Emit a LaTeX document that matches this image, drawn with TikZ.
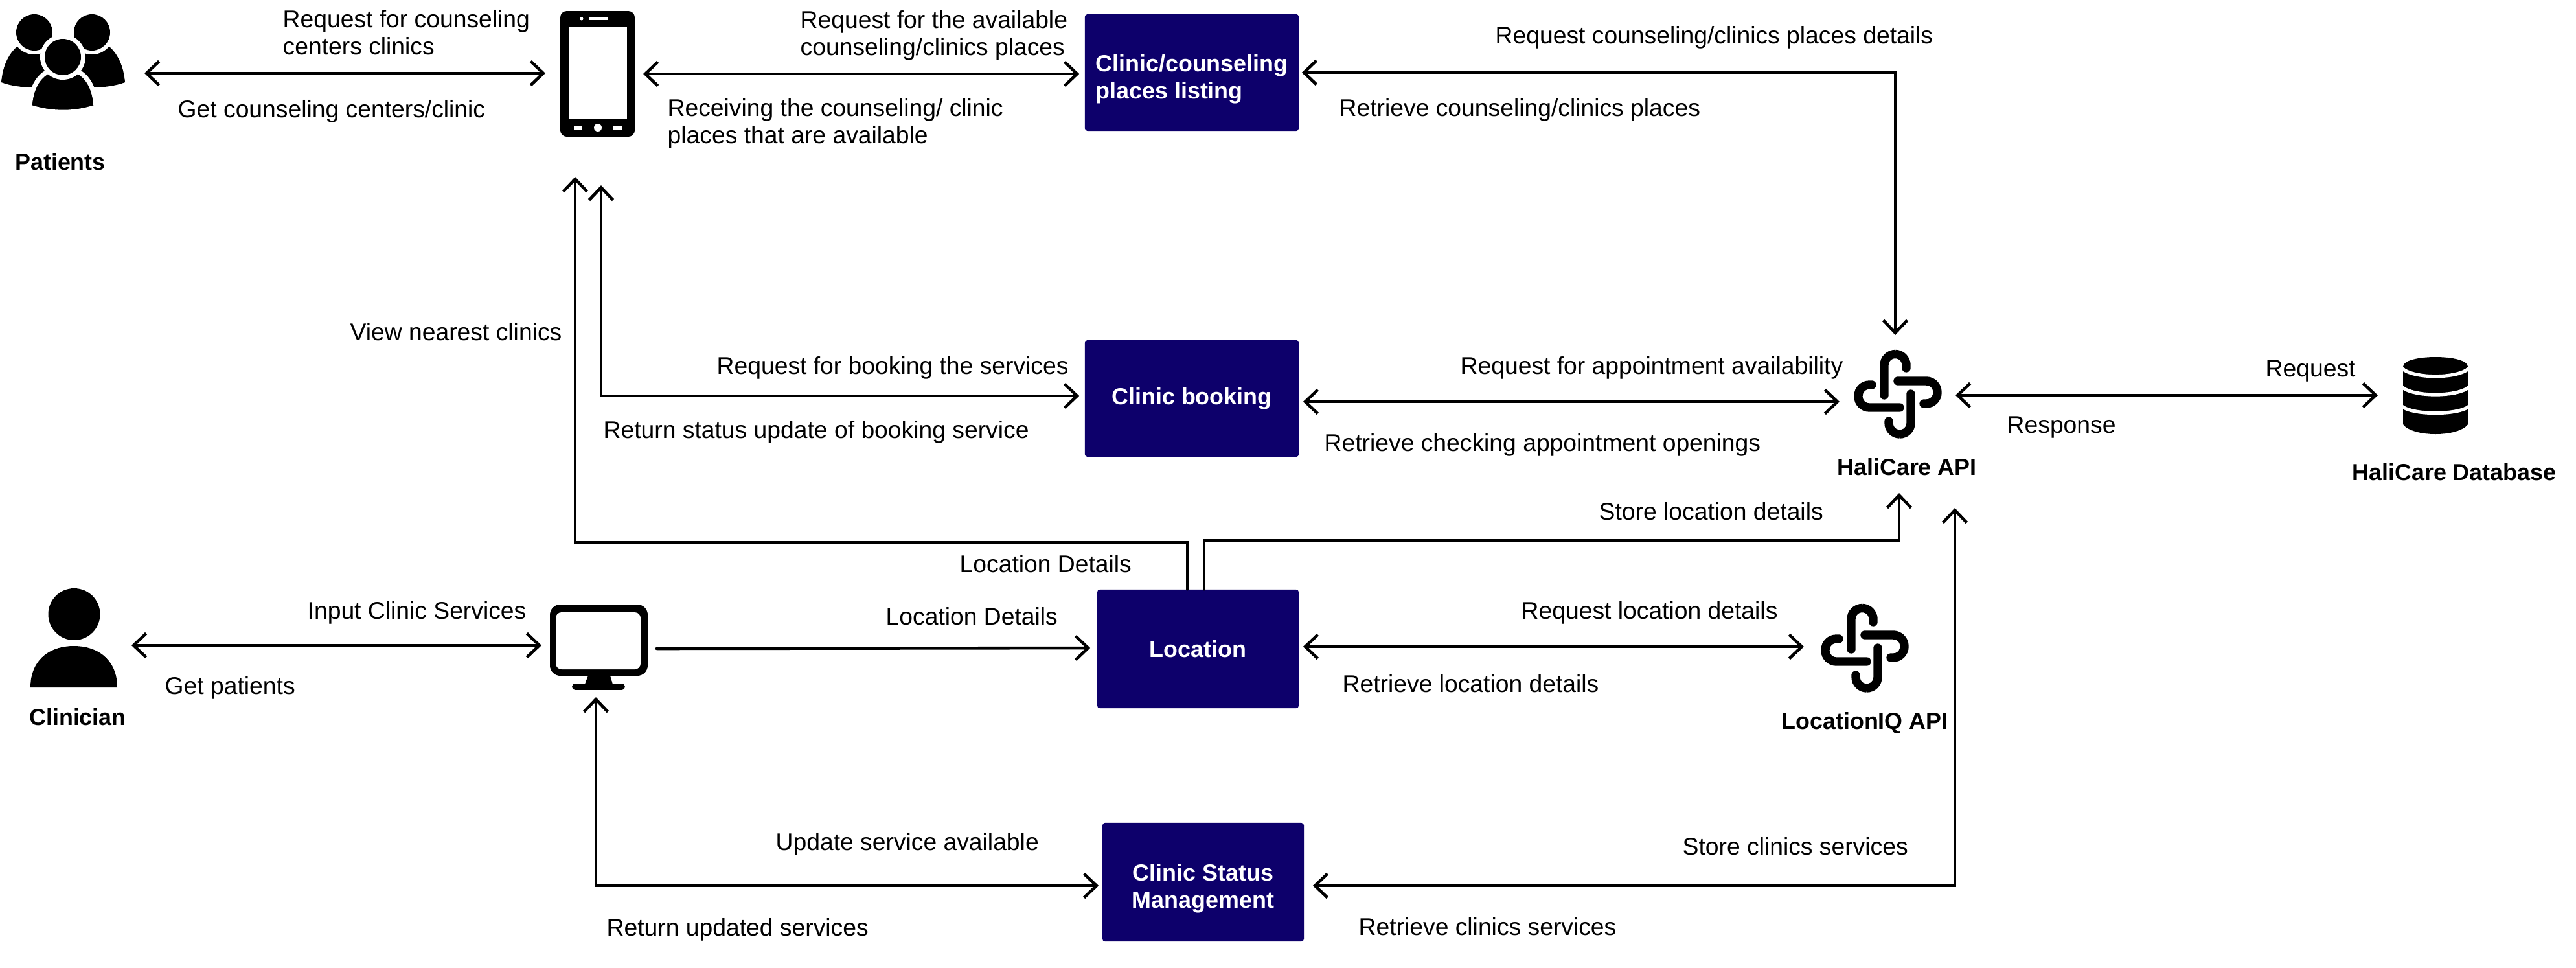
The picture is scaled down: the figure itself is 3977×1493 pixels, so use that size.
\documentclass[tikz,border=0pt]{standalone}
\usepackage{fontspec}
\setmainfont{Liberation Sans}
\usetikzlibrary{arrows.meta}
\definecolor{navy}{HTML}{0D006B}

\tikzset{
    lbl/.style={inner sep=0pt,anchor=west,align=left,font=\fontsize{10.6}{11.9}\selectfont},
    actor/.style={inner sep=0pt,font=\fontsize{10.2}{11.9}\selectfont\bfseries},
    box/.style={fill=navy,text=white,rounded corners=0.04cm,inner sep=0pt,font=\fontsize{10.2}{11.9}\selectfont\bfseries},
    oneway/.style={line width=1.3pt,line cap=round,-{Straight Barb[length=5.5pt,width=10.5pt]}},
    twoway/.style={line width=1.3pt,line cap=round,{Straight Barb[length=5.5pt,width=10.5pt]}-{Straight Barb[length=5.5pt,width=10.5pt]}},
    linkicon/.pic={
        \draw[line width=3.8pt,line cap=round,rounded corners=0.17cm]
            (59,80) -- (59,16.5) -- (93,16.5) -- (93,38)
            (80,58) -- (141,58) -- (141,93) -- (120,93)
            (100,78) -- (100,140) -- (66,140) -- (66,120)
            (83,99) -- (19,99) -- (19,64) -- (40,64);
    },
    patientsicon/.pic={
        \fill (2,127) .. controls (5,90) and (25,62) .. (53,62) .. controls (85,62) and (105,90) .. (105,120) -- (45,135) .. controls (30,134) and (15,132) .. (2,127);
        \fill (193,127) .. controls (190,90) and (170,62) .. (142,62) .. controls (110,62) and (90,90) .. (90,120) -- (150,135) .. controls (165,134) and (180,132) .. (193,127);
        \fill[white] (53,50) circle [radius=34] (142,50) circle [radius=34];
        \fill (53,50) circle [radius=28] (142,50) circle [radius=28];
        \filldraw[draw=white,line width=2pt] (46,165) .. controls (48,130) and (65,105) .. (97,105) .. controls (130,105) and (146,130) .. (148,165) .. controls (115,176) and (80,176) .. (46,165);
        \fill[white] (97,88) circle [radius=35];
        \fill (97,88) circle [radius=28];
    },
    phoneicon/.pic={
        \fill[rounded corners=0.1cm] (865,17) rectangle (980,211);
        \fill[white] (879,41) rectangle (968,183);
        \fill[white] (898,29) circle [radius=2.5];
        \fill[white] (909,27) rectangle (938,31);
        \fill[white] (923,197) circle [radius=6];
        \fill[white] (886,195) rectangle (898,199.5);
        \fill[white] (947,195) rectangle (960,199.5);
    },
    clinicianicon/.pic={
        \fill (114.5,948) circle [radius=40];
        \fill (47,1061) .. controls (47,1020) and (75,997) .. (114,997) .. controls (153,997) and (181,1020) .. (181,1061) -- cycle;
    },
    monitoricon/.pic={
        \fill[rounded corners=0.16cm] (849,933) rectangle (1000,1043);
        \fill[white,rounded corners=0.09cm] (858,945) rectangle (989,1033);
        \fill (908,1043) -- (942,1043) -- (946,1056) -- (903,1056) -- cycle;
        \draw[line width=2.8pt,line cap=round] (888,1060) -- (960,1060);
    },
    databaseicon/.pic={
        \fill (10,26) .. controls (10,6) and (110,6) .. (110,26) -- (110,115) .. controls (95,135) and (25,135) .. (10,115) -- cycle;
        \draw[white,line width=1.5pt] (8,28) .. controls (25,45) and (95,45) .. (112,28);
        \draw[white,line width=1.5pt] (8,57) .. controls (25,73) and (95,73) .. (112,57);
        \draw[white,line width=1.5pt] (8,87) .. controls (25,101) and (95,101) .. (112,87);
    }
}

\begin{document}
\begin{tikzpicture}[x=0.01cm,y=-0.01cm]

        \useasboundingbox (0,0) rectangle (3977,1493);

        % icons
        \pic at (0,0) {patientsicon};
        \pic at (0,0) {phoneicon};
        \pic at (0,0) {clinicianicon};
        \pic at (0,0) {monitoricon};
        \pic at (2850,530) {linkicon};
        \pic at (2799,922) {linkicon};
        \pic at (3700,540) {databaseicon};

        \node[actor] (patients) at (93,250) {Patients};
        \node[actor] (clinician) at (120,1107) {Clinician};
        \node[actor] (haliapi) at (2944,721) {HaliCare API};
        \node[actor] (halidb) at (3789,729) {HaliCare Database};
        \node[actor] (lociq) at (2879,1116) {LocationIQ API};

        % boxes
        \node[box,minimum width=3.3cm,minimum height=1.8cm,align=left] (listing) at (1840,112) {\rule{0pt}{0.46cm}Clinic/counseling\\places listing};
        \node[box,minimum width=3.3cm,minimum height=1.8cm] (booking) at (1840,615) {Clinic booking};
        \node[box,minimum width=3.11cm,minimum height=1.83cm] (location) at (1849.5,1001.5) {Location};
        \node[box,minimum width=3.11cm,minimum height=1.83cm,align=center] (status) at (1857.5,1361.5) {\rule{0pt}{0.46cm}Clinic Status\\Management};

        % free ends next to the icons
        \coordinate (patientsE) at (223,113);
        \coordinate (phoneW) at (842,113);
        \coordinate (phoneE) at (993,114);
        \coordinate (phoneS) at (888,273);
        \coordinate (phoneSb) at (928,286);
        \coordinate (apiN) at (2926,517);
        \coordinate (apiW) at (2840,620);
        \coordinate (apiE) at (3019,610);
        \coordinate (apiS) at (2932,761);
        \coordinate (apiSb) at (3018,784);
        \coordinate (dbW) at (3671,610);
        \coordinate (clinicianE) at (203,996);
        \coordinate (monitorW) at (836,996);
        \coordinate (monitorE) at (1014,1001);
        \coordinate (monitorS) at (920,1076);
        \coordinate (iqW) at (2785,998);

        % connectors
        \draw[twoway] (patientsE) -- (phoneW);
        \draw[twoway,shorten >=0.08cm] (phoneE) -- (listing.west |- phoneE);
        \draw[twoway,shorten <=0.04cm] (listing.east) -| (apiN);
        \draw[twoway,shorten <=0.06cm] (booking.east |- apiW) -- (apiW);
        \draw[twoway,shorten >=0.08cm] (phoneSb) |- (booking.west |- 0,611);
        \draw[oneway] (location.north -| 1833,0) -- (1833,837) -| (phoneS);
        \draw[oneway] (location.north -| 1859,0) -- (1859,834) -| (apiS);
        \draw[twoway] (apiE) -- (dbW);
        \draw[twoway] (clinicianE) -- (monitorW);
        \draw[oneway,shorten >=0.1cm] (monitorE) -- (location.west |- 0,1000);
        \draw[twoway,shorten <=0.06cm] (location.east |- iqW) -- (iqW);
        \draw[twoway,shorten >=0.05cm] (monitorS) |- (status.west |- 0,1367);
        \draw[twoway,shorten <=0.13cm] (status.east |- 0,1367) -| (apiSb);

        % labels
        \node[lbl] (t1) at (436,50) {Request for counseling\\centers clinics};
        \node[lbl] (t2) at (274,172) {Get counseling centers/clinic};
        \node[lbl] (t3) at (1235,55) {Request for the available\\counseling/clinics places};
        \node[lbl] (t4) at (1030,191) {Receiving the counseling/ clinic\\places that are available};
        \node[lbl] (t5) at (2308,58) {Request counseling/clinics places details};
        \node[lbl] (t6) at (2067,170) {Retrieve counseling/clinics places};
        \node[lbl] (t7) at (540,512) {View nearest clinics};
        \node[lbl] (t8) at (1106,568) {Request for booking the services};
        \node[lbl] (t9) at (931,667) {Return status update of booking service};
        \node[lbl] (t10) at (2254,568) {Request for appointment availability};
        \node[lbl] (t11) at (2044,687) {Retrieve checking appointment openings};
        \node[lbl] (t12) at (3497,573) {Request};
        \node[lbl] (t13) at (3098,660) {Response};
        \node[lbl] (t14) at (2468,789) {Store location details};
        \node[lbl] (t15) at (1481,870) {Location Details};
        \node[lbl] (t16) at (1367,951) {Location Details};
        \node[lbl] (t17) at (474,946) {Input Clinic Services};
        \node[lbl] (t18) at (254,1062) {Get patients};
        \node[lbl] (t19) at (2348,946) {Request location details};
        \node[lbl] (t20) at (2072,1055) {Retrieve location details};
        \node[lbl] (t21) at (1197,1303) {Update service available};
        \node[lbl] (t22) at (2597,1306) {Store clinics services};
        \node[lbl] (t23) at (936,1435) {Return updated services};
        \node[lbl] (t24) at (2097,1430) {Retrieve clinics services};

    \end{tikzpicture}
\end{document}
